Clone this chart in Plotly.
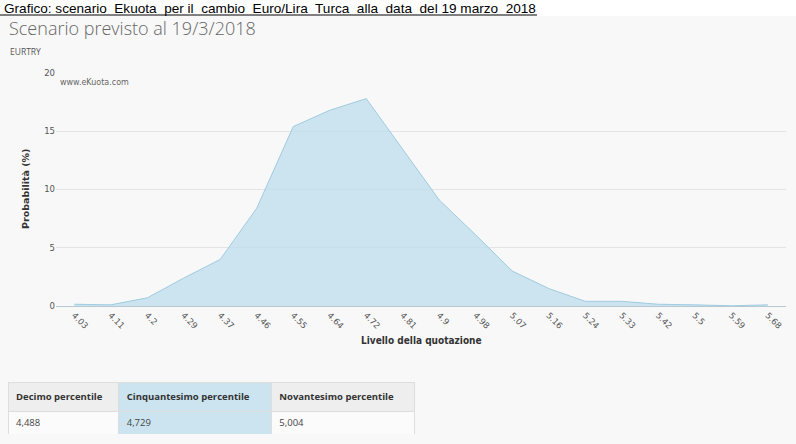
import plotly.graph_objects as go

W, H = 796, 444

levels = ["4.03", "4.11", "4.2", "4.29", "4.37", "4.46", "4.55", "4.64", "4.72", "4.81",
          "4.9", "4.98", "5.07", "5.16", "5.24", "5.33", "5.42", "5.5", "5.59", "5.68"]
prob = [0.15, 0.1, 0.7, 2.4, 4.0, 8.4, 15.4, 16.8, 17.8, 13.4,
        9.1, 6.1, 3.0, 1.5, 0.4, 0.4, 0.15, 0.1, 0.02, 0.1]
y_ticks = [0, 5, 10, 15, 20]

table_headers = ["Decimo percentile", "Cinquantesimo percentile", "Novantesimo percentile"]
table_values = ["4,488", "4,729", "5,004"]

page_title = "Grafico:\u00a0scenario\u00a0 Ekuota\u00a0 per il\u00a0 cambio\u00a0 Euro/Lira\u00a0 Turca\u00a0 alla\u00a0 data\u00a0 del 19 marzo\u00a0 2018\u00a0"
chart_title = "Scenario previsto al 19/3/2018"
subtitle = "EURTRY"
watermark = "www.eKuota.com"
y_title = "Probabilità (%)"
x_title = "Livello della quotazione"


def px(x):
    return x / W


def py(y):
    return 1 - y / H


fig = go.Figure()

fig.add_trace(go.Scatter(
    x=levels, y=prob, mode="lines", fill="tozeroy",
    line=dict(color="#9fcbe0", width=1),
    fillcolor="rgba(190,222,238,0.75)",
    hoverinfo="x+y", showlegend=False,
))

fig.add_trace(go.Table(
    domain=dict(x=[px(8), px(415)], y=[py(434), py(382)]),
    columnwidth=[111, 153, 143],
    header=dict(
        values=["<b>%s</b>" % h for h in table_headers],
        fill_color=["#eeeeee", "#cbe4f0", "#eeeeee"],
        line_color="#dddddd",
        align="left",
        height=26,
        font=dict(family="Open Sans", size=9.5, color="#333333"),
    ),
    cells=dict(
        values=[[v] for v in table_values],
        fill_color=["#fbfbfb", "#cbe4f0", "#fbfbfb"],
        line_color="#dddddd",
        align="left",
        height=26,
        font=dict(family="Open Sans", size=9.5, color="#444444"),
    ),
))

fig.update_layout(
    width=W, height=H,
    margin=dict(l=0, r=0, t=0, b=0, autoexpand=False),
    paper_bgcolor="#f8f8f8",
    plot_bgcolor="rgba(0,0,0,0)",
    showlegend=False,
    xaxis=dict(
        domain=[px(56), px(786)],
        type="category",
        range=[-0.5, len(levels) - 0.5],
        tickangle=45,
        showgrid=False,
        showline=True, linecolor="#b8c8d0", linewidth=1,
        ticks="", tickfont=dict(family="DejaVu Sans", size=8.5, color="#555555"),
        zeroline=False, fixedrange=True, automargin=False,
    ),
    yaxis=dict(
        domain=[py(306), py(73)],
        range=[0, 20],
        tickvals=y_ticks,
        showgrid=True, gridcolor="#e4e4e4", gridwidth=1,
        zeroline=False, showline=False,
        ticks="", tickfont=dict(family="DejaVu Sans", size=8.5, color="#555555"),
        fixedrange=True, automargin=False,
    ),
    shapes=[
        dict(type="rect", xref="paper", yref="paper", x0=0, x1=1, y0=py(16), y1=1,
             fillcolor="#ffffff", line=dict(width=0), layer="below"),
        dict(type="line", xref="paper", yref="paper", x0=0, x1=px(537), y0=py(15), y1=py(15),
             line=dict(color="#000000", width=1)),
    ],
    annotations=[
        dict(text=page_title, xref="paper", yref="paper", x=px(2), y=py(8), xanchor="left",
             yanchor="middle", showarrow=False,
             font=dict(family="Liberation Sans", size=13.6, color="#000000")),
        dict(text=chart_title, xref="paper", yref="paper", x=px(7), y=py(28), xanchor="left",
             yanchor="middle", showarrow=False,
             font=dict(family="Open Sans", size=18, color="#666666", weight=300)),
        dict(text=subtitle, xref="paper", yref="paper", x=px(8), y=py(51), xanchor="left",
             yanchor="middle", showarrow=False,
             font=dict(family="Open Sans", size=8.5, color="#555555")),
        dict(text=watermark, xref="paper", yref="paper", x=px(58), y=py(82), xanchor="left",
             yanchor="middle", showarrow=False,
             font=dict(family="DejaVu Sans", size=8, color="#666666")),
        dict(text="<b>%s</b>" % y_title, xref="paper", yref="paper", x=px(25), y=py(189),
             xanchor="center", yanchor="middle", textangle=-90, showarrow=False,
             font=dict(family="DejaVu Sans", size=9.5, color="#333333")),
        dict(text="<b>%s</b>" % x_title, xref="paper", yref="paper", x=px(421), y=py(340),
             xanchor="center", yanchor="middle", showarrow=False,
             font=dict(family="DejaVu Sans Condensed", size=10, color="#333333")),
    ],
)

fig.write_html(
    "out.html",
    config={"displayModeBar": False},
    post_script="document.body.style.margin='0';document.body.style.padding='0';"
                "document.documentElement.style.overflow='hidden';",
)
